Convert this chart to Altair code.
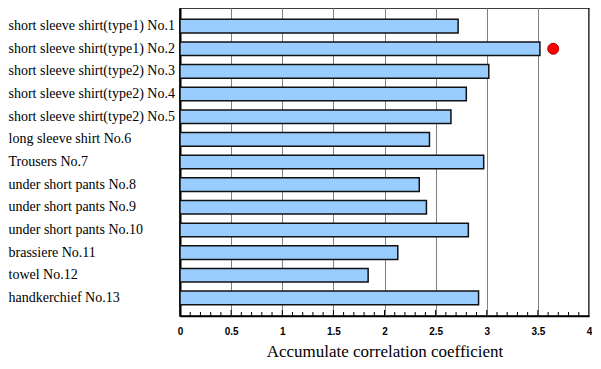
import altair as alt
import pandas as pd

items = [
    "short sleeve shirt(type1) No.1",
    "short sleeve shirt(type1) No.2",
    "short sleeve shirt(type2) No.3",
    "short sleeve shirt(type2) No.4",
    "short sleeve shirt(type2) No.5",
    "long sleeve shirt No.6",
    "Trousers No.7",
    "under short pants No.8",
    "under short pants No.9",
    "under short pants No.10",
    "brassiere No.11",
    "towel No.12",
    "handkerchief No.13",
]
values = [2.72, 3.52, 3.02, 2.80, 2.65, 2.44, 2.97, 2.34, 2.41, 2.82, 2.13, 1.84, 2.92]
dot_item = ["short sleeve shirt(type1) No.2"]
dot_value = [3.65]
major_ticks = [0, 0.5, 1, 1.5, 2, 2.5, 3, 3.5, 4]
minor_ticks = [round(i * 0.1, 1) for i in range(1, 40) if i % 5 != 0]

W, H = 409, 308

bars_df = pd.DataFrame({"item": items, "value": values})
dot_df = pd.DataFrame({"item": dot_item, "value": dot_value})
minor_df = pd.DataFrame({"t": minor_ticks})
major_df = pd.DataFrame({"t": major_ticks[1:-1]})

xscale = alt.Scale(domain=[0, 4], nice=False, zero=True)
yscale = alt.Scale(domain=items, paddingInner=0.4, paddingOuter=0.5)

SERIF = "Liberation Serif"

xaxis = alt.Axis(
    values=major_ticks,
    format="~g",
    grid=True,
    gridColor="#808080",
    gridWidth=1,
    ticks=False,
    domainColor="black",
    domainWidth=1.5,
    labelFont="Liberation Sans",
    labelFontWeight="bold",
    labelFontSize=10,
    labelColor="black",
    labelPadding=10,
    labelFlush=False,
    title="Accumulate correlation coefficient",
    titleFont=SERIF,
    titleFontSize=17,
    titleFontWeight="normal",
    titleColor="black",
    titlePadding=7,
)
yaxis = alt.Axis(
    title=None,
    ticks=False,
    domainColor="black",
    domainWidth=2,
    labelFont=SERIF,
    labelFontSize=14,
    labelColor="black",
    labelAlign="left",
    labelPadding=172,
    labelLimit=300,
)

bars = alt.Chart(bars_df).mark_bar(
    color="#99CCFF", stroke="#111111", strokeWidth=1.5
).encode(
    x=alt.X("value:Q", scale=xscale, axis=xaxis),
    y=alt.Y("item:N", scale=yscale, sort=items, axis=yaxis),
)

minor = alt.Chart(minor_df).mark_rule(color="black", strokeWidth=1).encode(
    x=alt.X("t:Q", scale=xscale),
    y=alt.value(H - 4),
    y2=alt.value(H),
)
major = alt.Chart(major_df).mark_rule(color="black", strokeWidth=1).encode(
    x=alt.X("t:Q", scale=xscale),
    y=alt.value(H - 6),
    y2=alt.value(H),
)

dot = alt.Chart(dot_df).mark_point(
    filled=True, color="#FF0000", stroke="#B00000", strokeWidth=1, size=120, opacity=1
).encode(
    x=alt.X("value:Q", scale=xscale),
    y=alt.Y("item:N", scale=yscale, sort=items),
)

chart = alt.layer(bars, minor, major, dot).properties(
    width=W, height=H,
    padding={"left": 0, "top": 0, "right": 0, "bottom": 0},
    background="white",
).configure_view(stroke="black", strokeWidth=1.5)

chart.save("out.html", embed_options={"renderer": "svg", "actions": False})
